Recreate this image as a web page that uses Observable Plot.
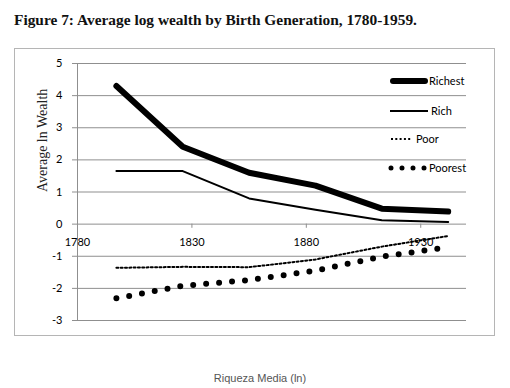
<!DOCTYPE html>
<html>
<head>
<meta charset="utf-8">
<script src="https://cdn.jsdelivr.net/npm/d3@7"></script>
<script src="https://cdn.jsdelivr.net/npm/@observablehq/plot@0.6"></script>
<style>
  html, body { margin: 0; padding: 0; background: #fff; }
  body { width: 510px; height: 388px; position: relative; overflow: hidden; }
  #title { position: absolute; left: 14px; top: 11px; font-family: "Liberation Serif", serif; font-weight: bold; font-size: 15.4px; line-height: 18px; color: #111; white-space: nowrap; }
  #box { position: absolute; left: 14px; top: 48px; width: 481px; height: 288px; border: 1px solid #b5b5b5; box-sizing: border-box; }
  #chart { position: absolute; left: 0; top: 48px; }
  #legend { position: absolute; left: 0; top: 0; font-family: "Lato", sans-serif; font-size: 11px; color: #000; }
  .li { position: absolute; white-space: nowrap; line-height: 14px; }
  .li svg { position: absolute; top: 0; }
  #caption { position: absolute; left: 0; width: 520px; top: 372px; text-align: center; font-family: "Liberation Sans", Arial, sans-serif; font-size: 11px; color: #555; }
</style>
</head>
<body>
<div id="title"></div>
<div id="box"></div>
<div id="chart"></div>
<div id="legend"></div>
<div id="caption"></div>
<script>
const titleText = "Figure 7: Average log wealth by Birth Generation, 1780-1959.";
const yLabel = "Average ln Wealth";
const captionText = "Riqueza Media (ln)";

const years   = [1797, 1826, 1855, 1884, 1913, 1942];
const richest = [4.30, 2.41, 1.60, 1.20, 0.48, 0.39];
const rich    = [1.65, 1.65, 0.80, 0.45, 0.12, 0.07];
const poor    = [-1.36, -1.33, -1.34, -1.10, -0.70, -0.37];
const poorest = [-2.31, -1.92, -1.74, -1.45, -1.01, -0.72];

const seriesNames = ["Richest", "Rich", "Poor", "Poorest"];
const xTicks = [1780, 1830, 1880, 1930];
const yTicks = [-3, -2, -1, 0, 1, 2, 3, 4, 5];

const styles = {
  Richest: {stroke: "#000", strokeWidth: 6, strokeLinecap: "round", strokeLinejoin: "round"},
  Rich:    {stroke: "#000", strokeWidth: 2},
  Poor:    {stroke: "#000", strokeWidth: 2, strokeDasharray: "2 2.3"},
  Poorest: {stroke: "#000", strokeWidth: 6, strokeDasharray: "0 13", strokeLinecap: "round"}
};
const values = {Richest: richest, Rich: rich, Poor: poor, Poorest: poorest};

document.getElementById("title").textContent = titleText;
document.getElementById("caption").textContent = captionText;

const grid = "#8f8f8f";
const chart = Plot.plot({
  width: 510,
  height: 290,
  marginLeft: 77,
  marginRight: 44,
  marginTop: 15,
  marginBottom: 18,
  x: {domain: [1780, 1950], axis: null},
  y: {domain: [-3, 5], axis: null},
  style: {fontFamily: "Lato, sans-serif", fontSize: "11px", color: "#000", background: "transparent", overflow: "visible"},
  marks: [
    Plot.gridY(yTicks, {stroke: grid, strokeOpacity: 1}),
    Plot.ruleX([1780], {stroke: grid}),
    Plot.axisY({ticks: yTicks, tickSize: 5, tickPadding: 10, stroke: grid, fill: "#000", tickFormat: d => String(d), label: null}),
    Plot.ruleX(xTicks, {x: d => d, y1: 0, y2: -0.13, stroke: grid}),
    Plot.text(xTicks, {x: d => d, y: 0, dy: 18, text: d => String(d), fill: "#000"}),
    Plot.text([yLabel], {frameAnchor: "left", text: d => d, rotate: -90, dx: -35, fontFamily: "Liberation Serif, serif", fontSize: 14, fill: "#222"}),
    ...seriesNames.map(name =>
      Plot.line(years.map((yr, i) => ({year: yr, v: values[name][i]})), {x: "year", y: "v", ...styles[name]})
    )
  ]
});
document.getElementById("chart").appendChild(chart);

// Legend (inside plot area, right side)
const legendPos = [
  {name: "Richest", top: 74, x1: 393, x2: 425, text: 429, sw: 6, dash: "", cap: "round"},
  {name: "Rich",    top: 104, x1: 390, x2: 428, text: 431, sw: 2, dash: "", cap: "butt"},
  {name: "Poor",    top: 132, x1: 391, x2: 412, text: 416, sw: 2, dash: "2 2.3", cap: "butt"},
  {name: "Poorest", top: 161, x1: 391, x2: 424.6, text: 429, sw: 5, dash: "0 11", cap: "round"}
];
const legend = document.getElementById("legend");
for (const p of legendPos) {
  const div = document.createElement("div");
  div.className = "li";
  div.style.left = "0px";
  div.style.top = p.top + "px";
  div.innerHTML =
    `<svg width="440" height="14" style="left:0"><line x1="${p.x1}" x2="${p.x2}" y1="7" y2="7" stroke="#000" stroke-width="${p.sw}" ${p.dash ? `stroke-dasharray="${p.dash}"` : ""} stroke-linecap="${p.cap}"/></svg>` +
    `<span style="position:absolute;left:${p.text}px;top:0">${p.name}</span>`;
  legend.appendChild(div);
}
</script>
</body>
</html>
